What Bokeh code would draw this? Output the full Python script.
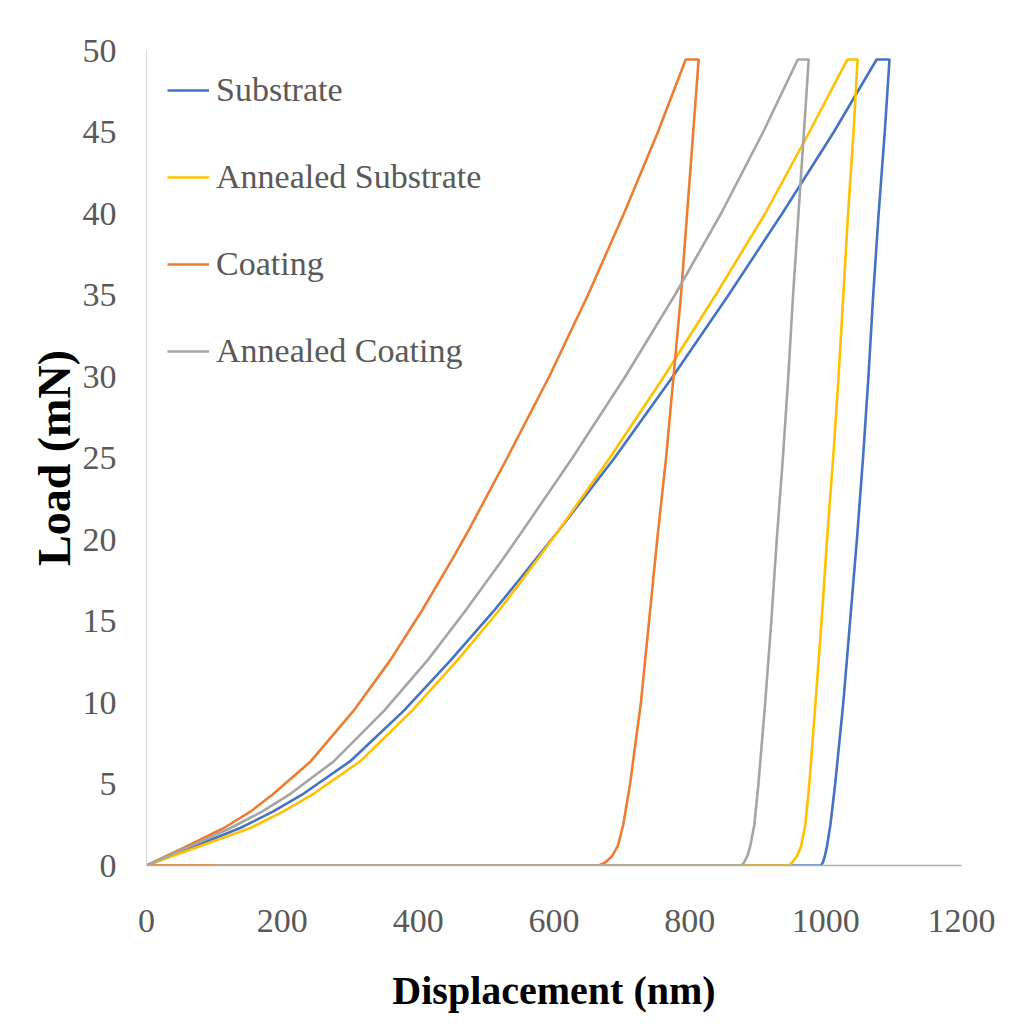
from bokeh.plotting import figure
from bokeh.models import Legend, LegendItem, FixedTicker, Range1d
from bokeh.embed import file_html
from bokeh.resources import INLINE

# Substrate (loading, hold, unloading, return)
sub_x = [0, 60, 138, 186, 231, 300, 379, 448, 511, 552, 607, 689, 775, 857, 936, 1012, 1075,
         1094, 1087, 1078, 1070, 1063, 1055, 1046, 1036, 1026, 1014, 1007, 1002, 999, 996, 993, 0]
sub_y = [0, 1.0, 2.3, 3.3, 4.4, 6.4, 9.5, 12.6, 15.6, 17.7, 20.55, 25, 30, 35, 40, 45, 49.45,
         49.45, 45, 40, 35, 30, 25, 20, 15, 10, 5, 2.5, 1.2, 0.6, 0.2, 0, 0]
# Annealed Substrate
ann_sub_x = [0, 66, 153, 201, 246, 315, 391, 458, 518, 551, 607, 682, 762, 838, 911, 976, 1032,
             1047, 1041, 1033, 1026, 1019, 1011, 1002, 994, 985, 976, 970, 964, 958, 951, 946, 0]
ann_sub_y = [0, 1.0, 2.3, 3.3, 4.4, 6.4, 9.5, 12.6, 15.6, 17.4, 20.55, 25, 30, 35, 40, 45, 49.45,
             49.45, 45, 40, 35, 30, 25, 20, 15, 10, 5, 2.5, 1.2, 0.6, 0.2, 0, 0]
# Coating
coat_x = [0, 55, 114, 153, 187, 242, 305, 359, 405, 449, 474, 531, 593, 650, 703, 753, 794,
          813, 805, 796, 787, 776, 765, 752, 740, 728, 712, 702, 694, 686, 676, 666, 0]
coat_y = [0, 1.1, 2.3, 3.3, 4.4, 6.4, 9.5, 12.6, 15.6, 18.7, 20.55, 25, 30, 35, 40, 45, 49.45,
          49.45, 45, 40, 35, 30, 25, 20, 15, 10, 5, 2.5, 1.2, 0.6, 0.2, 0, 0]
# Annealed Coating
ann_coat_x = [0, 60, 124, 170, 212, 276, 350, 414, 469, 523, 554, 627, 705, 778, 846, 908, 959,
              975, 968, 960, 952, 945, 937, 928, 920, 911, 901, 895, 889, 885, 880, 876, 100]
ann_coat_y = [0, 1.1, 2.3, 3.3, 4.4, 6.4, 9.5, 12.6, 15.6, 18.7, 20.55, 25, 30, 35, 40, 45, 49.45,
              49.45, 45, 40, 35, 30, 25, 20, 15, 10, 5, 2.5, 1.2, 0.6, 0.2, 0, 0]

x_ticks = [0, 200, 400, 600, 800, 1000, 1200]
y_ticks = [0, 5, 10, 15, 20, 25, 30, 35, 40, 45, 50]

FONT = "Liberation Serif"

p = figure(width=1020, height=1028, output_backend="svg", toolbar_location=None,
           x_range=Range1d(0, 1200), y_range=Range1d(0, 50),
           min_border_left=146, min_border_right=59, min_border_top=50, min_border_bottom=163)
p.outline_line_color = None
p.xgrid.visible = False
p.ygrid.visible = False

r_sub = p.line(sub_x, sub_y, line_color="#4472C4", line_width=2.6)
r_asub = p.line(ann_sub_x, ann_sub_y, line_color="#FFC000", line_width=2.6)
r_coat = p.line(coat_x, coat_y, line_color="#ED7D31", line_width=2.6)
r_acoat = p.line(ann_coat_x, ann_coat_y, line_color="#A5A5A5", line_width=2.6)

for ax in (p.xaxis[0], p.yaxis[0]):
    ax.major_tick_out = 0
    ax.major_tick_in = 0
    ax.minor_tick_out = 0
    ax.minor_tick_in = 0
    ax.major_label_text_font = FONT
    ax.major_label_text_font_size = "34px"
    ax.major_label_text_color = "#595959"
    ax.axis_label_text_font = FONT
    ax.axis_label_text_font_style = "bold"
    ax.axis_label_text_color = "#000000"

p.xaxis.ticker = FixedTicker(ticks=x_ticks)
p.yaxis.ticker = FixedTicker(ticks=y_ticks)
p.xaxis.axis_line_color = "#b0b0b0"
p.yaxis.axis_line_color = "#d6d6d6"
p.xaxis.axis_line_width = 1.5
p.xaxis.major_label_standoff = 44
p.yaxis.major_label_standoff = 30
p.xaxis.axis_label = "Displacement (nm)"
p.yaxis.axis_label = "Load (mN)"
p.xaxis.axis_label_text_font_size = "40px"
p.yaxis.axis_label_text_font_size = "46px"
p.xaxis.axis_label_standoff = 33
p.yaxis.axis_label_standoff = 0

legend = Legend(items=[
    LegendItem(label="Substrate", renderers=[r_sub]),
    LegendItem(label="Annealed Substrate", renderers=[r_asub]),
    LegendItem(label="Coating", renderers=[r_coat]),
    LegendItem(label="Annealed Coating", renderers=[r_acoat]),
], location="top_left")
legend.border_line_color = None
legend.background_fill_alpha = 0
legend.margin = 21
legend.padding = 0
legend.spacing = 49
legend.glyph_width = 42
legend.glyph_height = 30
legend.label_height = 30
legend.label_standoff = 7
legend.label_text_font = FONT
legend.label_text_font_size = "34px"
legend.label_text_color = "#595959"
p.add_layout(legend, "center")

open("out.html", "w").write(file_html(p, INLINE))
